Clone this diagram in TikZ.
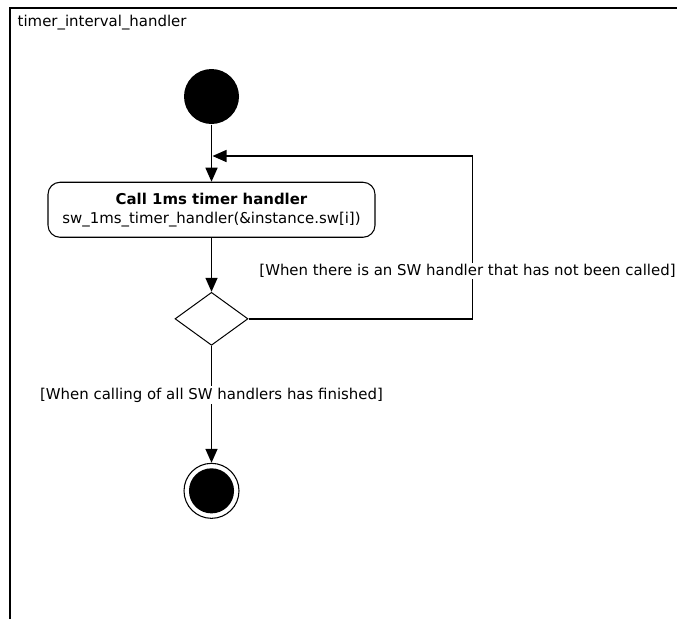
\documentclass[tikz,border=0pt]{standalone}
\usepackage{fontspec}
\setmainfont{DejaVu Sans}
\usetikzlibrary{arrows.meta,shapes.geometric,positioning}

\begin{document}
\begin{tikzpicture}[x=0.75pt,y=-0.75pt,>={Triangle[length=10.5pt,width=9pt]},
				font=\fontsize{11.2}{14}\selectfont,line width=1.1pt,
				start node/.style = {circle,fill=black,inner sep = 0pt, minimum size = 41.25pt},
				action node/.style = {rectangle,rounded corners=9pt,draw,line width=0.8pt, minimum width = 245.25pt, minimum height = 41.25pt, align=center, inner sep=0pt},
				choice node/.style = {diamond,draw,line width=0.75pt, minimum width = 54.75pt, minimum height = 39.75pt, inner sep = 0pt},
				final node/.style = {circle,draw,line width=0.8pt, inner sep = 0pt, minimum size = 41.25pt,
					path picture={\fill (path picture bounding box.center) circle (16.9pt);}},
				guard/.style = {fill=white,inner sep=1pt}]
				
				\useasboundingbox (0,0) rectangle (677,619);
				\draw[line width=1.5pt] (10,619) -- (10,8) -- (677,8);
				\node[anchor=west,inner sep=0pt] (0) at (17,23) {timer\_interval\_handler};
				
				\node[start node] (1) at (211.5,96.5) {};
				\node[action node] [below = 42.75pt of 1] (2) {\textbf{Call 1ms timer handler}\\sw\_1ms\_timer\_handler(\&instance.sw[i])};
				\node[choice node] [below = 40.5pt of 2] (3) {};
				\node[final node] [below = 87.75pt of 3] (4) {};
				\coordinate (j) at (212.5,156);
				\coordinate (k) at (472.7,156);
				
				\path[->]
				(1) edge (2)
				(2) edge (3)
				(3) edge (4);
				\draw[->] (3.east) -| (k) -- (j);
				
				\node[guard] (5) at (467.5,271) {[When there is an SW handler that has not been called]};
				\node[guard] (6) at (211.5,395) {[When calling of all SW handlers has finished]};
\end{tikzpicture}
\end{document}
